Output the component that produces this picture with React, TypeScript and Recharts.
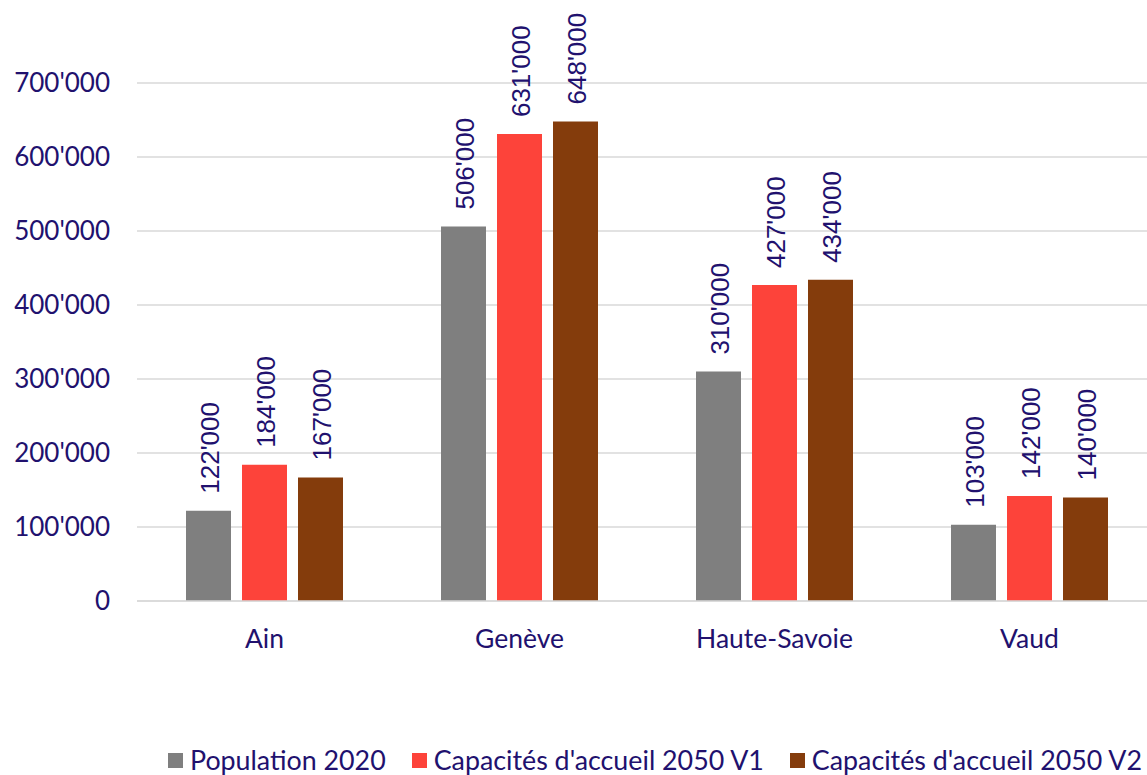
import React from 'react';
import { BarChart, Bar, XAxis, YAxis, CartesianGrid, Legend, LabelList } from 'recharts';

const categories = ['Ain', 'Genève', 'Haute-Savoie', 'Vaud'];
const population2020 = [122000, 506000, 310000, 103000];
const capacitesV1 = [184000, 631000, 427000, 142000];
const capacitesV2 = [167000, 648000, 434000, 140000];
const yTicks = [0, 100000, 200000, 300000, 400000, 500000, 600000, 700000];

const seriesNames = ['Population 2020', "Capacités d'accueil 2050 V1", "Capacités d'accueil 2050 V2"];
const seriesColors = ['#7f7f7f', '#fd433a', '#843c0c'];
const seriesKeys = ['pop', 'v1', 'v2'];

const data = categories.map((c, i) => ({
  name: c,
  pop: population2020[i],
  v1: capacitesV1[i],
  v2: capacitesV2[i],
}));

const TEXT = '#21116e';
const GRID = '#d9d9d9';

const fmt = (v: number) => {
  const s = Math.round(v).toString();
  return s.replace(/\B(?=(\d{3})+(?!\d))/g, "'");
};

const RotLabel = (props: any) => {
  const { x, y, width, value } = props;
  const cx = Number(x) + Number(width) / 2 + 1;
  const ty = Number(y) - 17;
  return (
    <text
      transform={`translate(${cx},${ty}) rotate(-90)`}
      x={0}
      y={0}
      dy="0.36em"
      textAnchor="start"
      fill={TEXT}
      fontFamily="'Liberation Sans', Arial, sans-serif"
      fontSize={26}
    >
      {fmt(value)}
    </text>
  );
};

const LegendContent = () => (
  <div
    style={{
      display: 'flex',
      alignItems: 'center',
      height: 32,
      paddingLeft: 168,
      fontFamily: 'Lato, sans-serif',
      fontSize: 26.8,
      lineHeight: '28px',
      color: TEXT,
      whiteSpace: 'nowrap',
      boxSizing: 'border-box',
      paddingTop: 2,
    }}
  >
    {seriesNames.map((n, i) => (
      <div key={n} style={{ display: 'flex', alignItems: 'center', marginRight: 26 }}>
        <div style={{ width: 15, height: 15, background: seriesColors[i], marginRight: 7 }} />
        <span>{n}</span>
      </div>
    ))}
  </div>
);

export default function App() {
  return (
    <div style={{ position: 'absolute', left: 0, top: 0, width: 1147, height: 775, overflow: 'hidden', background: '#fff' }}>
      <BarChart
        width={1160}
        height={775}
        data={data}
        margin={{ top: 83, right: 3, left: 0, bottom: 0 }}
        barSize={45}
        barGap={11}
      >
        <CartesianGrid vertical={false} stroke={GRID} strokeWidth={1.5} />
        <XAxis
          dataKey="name"
          height={142}
          tickLine={false}
          tickSize={0}
          tickMargin={28}
          axisLine={{ stroke: GRID, strokeWidth: 1.5 }}
          tick={{ fill: TEXT, fontFamily: 'Lato, sans-serif', fontSize: 26.5 }}
          interval={0}
        />
        <YAxis
          width={137}
          domain={[0, 700000]}
          ticks={yTicks}
          tickFormatter={fmt}
          axisLine={false}
          tickLine={false}
          tickSize={0}
          tickMargin={27}
          tick={{ fill: TEXT, fontFamily: 'Lato, sans-serif', fontSize: 26 }}
        />
        <Legend verticalAlign="bottom" align="left" height={32} content={<LegendContent />} />
        {seriesKeys.map((k, i) => (
          <Bar key={k} dataKey={k} name={seriesNames[i]} fill={seriesColors[i]} isAnimationActive={false}>
            <LabelList dataKey={k} content={<RotLabel />} />
          </Bar>
        ))}
      </BarChart>
    </div>
  );
}
